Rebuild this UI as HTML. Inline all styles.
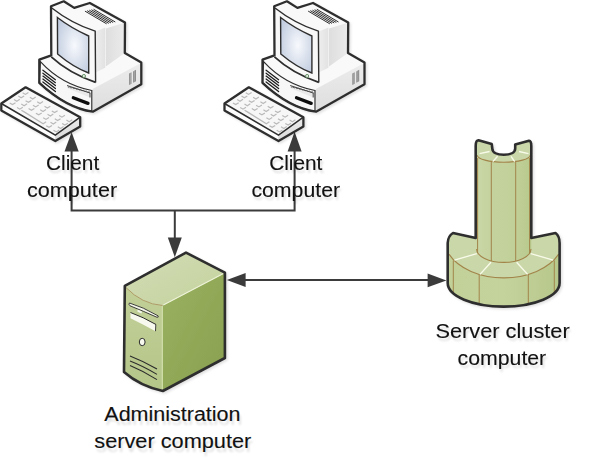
<!DOCTYPE html>
<html><head><meta charset="utf-8"><style>
html,body{margin:0;padding:0;background:#fff;}
svg{display:block;}
.t{font-family:"Liberation Sans",sans-serif;font-size:20px;fill:#111;stroke:#111;stroke-width:0.12px;}
.r{font-family:"Liberation Sans",sans-serif;font-size:20px;fill:#000;opacity:0.13;}
</style></head><body>
<svg width="600" height="458" viewBox="0 0 600 458">

<defs>
  <linearGradient id="gBaseR" x1="0" y1="0" x2="0" y2="1"><stop offset="0" stop-color="#ececec"/><stop offset="1" stop-color="#dedede"/></linearGradient>
  <linearGradient id="gSide" x1="0" y1="0" x2="1" y2="0"><stop offset="0" stop-color="#dedede"/><stop offset="1" stop-color="#ebebeb"/></linearGradient>
  <linearGradient id="gStrip" x1="0" y1="0" x2="1" y2="0"><stop offset="0" stop-color="#eeeeee"/><stop offset="1" stop-color="#e2e2e2"/></linearGradient>
  <linearGradient id="gKbR" x1="0" y1="0" x2="0" y2="1"><stop offset="0" stop-color="#ececec"/><stop offset="1" stop-color="#d9d9d9"/></linearGradient>
  <radialGradient id="gScreen" cx="0.55" cy="0.5" r="0.6"><stop offset="0" stop-color="#f7f9fd"/><stop offset="1" stop-color="#c3cee0"/></radialGradient>
  <clipPath id="cBaseF"><path d="M40.4,61.6 Q61.65,84.65 91.8,90.5 L91.8,111.4 Q66.1,107.85 39.3,82.8 Z"/></clipPath>
  <clipPath id="cKb"><path d="M25.6,87.3 L80.2,117.2 L55.3,135.2 L1.3,103.5 Z"/></clipPath>
  <clipPath id="cDisk"><path d="M447.7,240 L559.6,240 L559.6,283 A55.95,23.6 0 0 1 447.7,283 Z"/></clipPath>
  <clipPath id="cVent"><path d="M88,10 L118,4 L121,26 L95,26 Z"/></clipPath>
  <linearGradient id="gTop" x1="0" y1="0" x2="1" y2="1"><stop offset="0" stop-color="#d3ddb6"/><stop offset="1" stop-color="#c3d19c"/></linearGradient>
  <linearGradient id="gFront" x1="0" y1="0" x2="0" y2="1"><stop offset="0" stop-color="#c2d098"/><stop offset="1" stop-color="#b5c689"/></linearGradient>
  <linearGradient id="gRight" x1="0" y1="0" x2="1" y2="1"><stop offset="0" stop-color="#9ab161"/><stop offset="1" stop-color="#88a04f"/></linearGradient>
  <linearGradient id="gCol" x1="0" y1="0" x2="1" y2="0"><stop offset="0" stop-color="#cad7a7"/><stop offset="0.3" stop-color="#c4d29e"/><stop offset="0.55" stop-color="#c3d29c"/><stop offset="1" stop-color="#b9ca8e"/></linearGradient>
  <linearGradient id="gDisk" x1="0" y1="0" x2="1" y2="0"><stop offset="0" stop-color="#c2d198"/><stop offset="0.5" stop-color="#c4d29c"/><stop offset="1" stop-color="#b7c88b"/></linearGradient>
  <filter id="ds" x="-10%" y="-10%" width="125%" height="125%"><feDropShadow dx="1.5" dy="1.5" stdDeviation="1.2" flood-color="#000" flood-opacity="0.12"/></filter>
  <filter id="blur1" x="-5%" y="-50%" width="110%" height="200%"><feGaussianBlur stdDeviation="0.85"/></filter>
  <linearGradient id="fade" x1="0" y1="0" x2="0" y2="1"><stop offset="0" stop-color="#fff" stop-opacity="0.35"/><stop offset="1" stop-color="#fff" stop-opacity="0"/></linearGradient>
</defs>

<rect width="600" height="458" fill="#fff"/>

<g stroke="#3b3b3b" stroke-width="2" fill="none">
  <path d="M71.6,148 L71.6,210.5 L294.6,210.5 L294.6,148"/>
  <path d="M174.8,210.5 L174.8,240"/>
</g>
<path d="M245,280 L428,280" stroke="#3b3b3b" stroke-width="1.8"/>
<g fill="#3b3b3b">
  <path d="M64.5,151.6 L78.7,151.6 L71.6,132.2 Z"/>
  <path d="M287.6,151.6 L301.6,151.6 L294.6,131.8 Z"/>
  <path d="M167.8,237.4 L181.8,237.4 L174.8,257.2 Z"/>
  <path d="M245.6,273.1 L245.6,287 L226.8,280 Z"/>
  <path d="M427.6,273.4 L427.6,287.3 L446.4,280.4 Z"/>
</g>

<g filter="url(#ds)">
<g id="pc">
  <!-- silhouette fill -->
  <path d="M51,6.3 L63.75,1.3 L74.2,7.9 L89.8,3.0 L125,22.5 L124.8,53.1 L141.3,62.6 L141.3,84.3 L92.8,111.7 Q66.1,107.85 39.3,82.8 L39.3,59.7 L51.3,55.4 Z" fill="#f9f9f9"/>
  <!-- base right face -->
  <path d="M92.6,89 L140.6,63.2 L140.6,84.3 L92.6,110.8 Z" fill="url(#gBaseR)"/>
  <!-- base vents right -->
  <path d="M129.1,73.6 L131.5,72.3 L131.5,83.7 L129.1,85 Z M133.1,71.4 L136,69.8 L136,81.2 L133.1,82.8 Z" fill="#8c8c8c"/>
  <path d="M130.5,73.2 L130.5,84 M134.6,70.8 L134.6,81.8" stroke="#b0b0b0" stroke-width="0.7"/>
  <!-- base front face -->
  <path d="M40.4,61.6 Q61.65,84.65 91.8,90.5 L91.8,111.4 Q66.1,107.85 39.3,82.8 Z" fill="#f7f7f7" stroke="#2e2e2e" stroke-width="1.2"/>
  <!-- base front vents -->
  <path d="M42.9,70.20 L55.4,79.70 M42.9,73.15 L55.4,82.65 M42.9,76.10 L55.4,85.60 M42.9,79.05 L55.4,88.55 M42.9,82.00 L55.4,91.50" stroke="#1e1e1e" stroke-width="1.3" fill="none" stroke-linecap="round" clip-path="url(#cBaseF)"/>
  <!-- floppy label -->
  <path d="M67,85.5 L90,93 L90,97.5 L67,88 Z" fill="#e9e9e9"/>
  <path d="M67,85.5 L90,93 L90,97.5" stroke="#333" stroke-width="0.9" fill="none"/>
  <path d="M68,87.2 l1.6,-0.3 l1.2,1 l1.6,-0.3 l1.2,1 l1.6,-0.3 l1.2,1 l1.6,-0.3 l1.2,1 l1.6,-0.3 l1.2,1 l1.6,-0.3 l1.2,1 l1.6,-0.3 l1.2,1 l1.6,-0.3 l1.2,1" stroke="#444" stroke-width="0.8" fill="none"/>
  <!-- floppy slot -->
  <path d="M73.3,97.8 L88,103.4" stroke="#0e0e0e" stroke-width="3.3" stroke-linecap="round"/>
  <!-- monitor body side gray -->
  <path d="M105.8,28.5 L124.5,22.8 L124.5,53.2 L105.8,66.6 Z" fill="url(#gSide)"/>
  <!-- bezel side strip -->
  <path d="M95.6,31.6 L105.2,27.6 L105.2,67.8 L95.6,72.5 Z" fill="url(#gStrip)"/>
  <!-- bezel front -->
  <path d="M51.5,7.6 Q71.5,23.5 95.2,31.2 L95.6,82.5 Q68.85,73 51.3,56.5 Z" fill="#f8f8f8"/>
  <!-- bezel top edge & right edge & bottom -->
  <path d="M51.8,8 Q71.5,23.5 95.2,31.2 L95.6,82.5" stroke="#2e2e2e" stroke-width="1.4" fill="none"/>
  <path d="M51.3,56.8 Q68.85,73 95.6,82.3" stroke="#2e2e2e" stroke-width="1.8" fill="none"/>
  <!-- screen -->
  <path d="M57.4,17.5 Q71,28 88.7,36 L88.7,73 Q73.45,67.35 57.6,54 Z" fill="url(#gScreen)" stroke="#2e2e2e" stroke-width="1.4"/>
  <!-- power led -->
  <circle cx="83.9" cy="76" r="1.6" fill="#e2ebe2" stroke="#5e8a5e" stroke-width="0.9"/>
  <!-- vents on top -->
  <path d="M85.30,11.30 L106.30,23.65 M87.46,10.84 L108.46,23.19 M89.62,10.38 L110.62,22.73 M91.78,9.92 L112.78,22.27 M93.94,9.46 L114.94,21.81" stroke="#222" stroke-width="0.95" stroke-linecap="round" fill="none"/>
  <!-- outline -->
  <path d="M51,6.3 L63.75,1.3 L74.2,7.9 L89.8,3.0 L125,22.5 L124.8,53.1 L141.3,62.6 L141.3,84.3 L92.8,111.7 Q66.1,107.85 39.3,82.8 L39.3,59.7 L51.3,55.4 Z" fill="none" stroke="#2e2e2e" stroke-width="2.3" stroke-linejoin="round"/>
  <!-- keyboard -->
  <path d="M25.6,87.3 L80.2,117.2 L55.3,135.2 L1.3,103.5 Z" fill="#f7f7f7"/>
  <path d="M1.3,103.5 L55.3,135.2 L55.3,141 L1.3,110.5 Z" fill="#fdfdfd"/>
  <path d="M55.3,135.2 L80.2,117.2 L80.2,126.4 L55.3,141 Z" fill="url(#gKbR)"/>
  <path d="M22.60,92.70L25.40,94.40L28.40,92.50M29.90,97.25L32.70,98.95L35.70,97.05M37.20,101.80L40.00,103.50L43.00,101.60M44.50,106.35L47.30,108.05L50.30,106.15M51.80,110.90L54.60,112.60L57.60,110.70M59.10,115.45L61.90,117.15L64.90,115.25M66.40,120.00L69.20,121.70L72.20,119.80M18.30,96.10L21.10,97.80L24.10,95.90M25.60,100.65L28.40,102.35L31.40,100.45M32.90,105.20L35.70,106.90L38.70,105.00M40.20,109.75L43.00,111.45L46.00,109.55M47.50,114.30L50.30,116.00L53.30,114.10M54.80,118.85L57.60,120.55L60.60,118.65M62.10,123.40L64.90,125.10L67.90,123.20M14.00,99.50L16.80,101.20L19.80,99.30M21.30,104.05L24.10,105.75L27.10,103.85M28.60,108.60L31.40,110.30L34.40,108.40M35.90,113.15L38.70,114.85L41.70,112.95M43.20,117.70L46.00,119.40L49.00,117.50M50.50,122.25L53.30,123.95L56.30,122.05M57.80,126.80L60.60,128.50L63.60,126.60M9.70,102.90L12.50,104.60L15.50,102.70M17.00,107.45L19.80,109.15L22.80,107.25M46.20,125.65L49.00,127.35L52.00,125.45M53.50,130.20L56.30,131.90L59.30,130.00M21.38,110.18L24.18,111.88L43.16,123.71L46.16,121.81" stroke="#b9b9b9" stroke-width="1.2" fill="none" clip-path="url(#cKb)"/>
  <path d="M1.3,103.5 L55.3,135.2 L80.2,117.2" stroke="#2e2e2e" stroke-width="1.5" fill="none"/>
  <path d="M25.6,87.3 L80.2,117.2 L80.2,126.4 L55.3,141 L1.3,110.5 L1.3,103.5 Z" fill="none" stroke="#2e2e2e" stroke-width="2.3" stroke-linejoin="round"/>
</g>

<use href="#pc" transform="translate(223.2,0)"/>

<g id="server">
  <!-- top -->
  <path d="M124.8,285.9 L186,252.6 L224.9,272.7 L162.8,305.4 Q142,304 124.8,285.9 Z" fill="url(#gTop)"/>
  <!-- front -->
  <path d="M124.8,285.9 Q142,304 162.8,305.4 L162.8,391 Q140,386 124,372 Z" fill="url(#gFront)"/>
  <!-- right -->
  <path d="M162.8,305.4 L224.9,272.7 L224.9,358 L162.8,391 Z" fill="url(#gRight)"/>
  <!-- highlight edge -->
  <path d="M163.3,305 L223.5,273.5" stroke="#eef3d8" stroke-width="1.1"/>
  <path d="M162.3,306 L162.3,390" stroke="#d3dfab" stroke-width="1.1"/>
  <!-- front top curve brown -->
  <path d="M125.9,287.5 Q142,304 162.5,305.5" stroke="#aa9460" stroke-width="0.9" fill="none"/>
  <!-- drive slot 1 -->
  <path d="M129.5,303 Q143,307 158,315.8 Q159,317.5 157,317.3 Q143,311 130,305.8 Q128,304 129.5,303 Z" fill="#f4f6ea" stroke="#2b2b2b" stroke-width="0.9"/>
  <path d="M137.5,309.5 L142,311.5 L141.5,313.5 L137.5,311.8 Z" fill="#f4f6ea"/>
  <!-- drive 2 -->
  <path d="M130.5,312.5 Q143,317 156,324.5 L155.5,331.2 Q143,324.5 130.5,318.3 Z" fill="#f7f9ee"/>
  <path d="M155.8,324.5 L155.5,331.2" stroke="#2b2b2b" stroke-width="0.9"/>
  <path d="M130.5,312.5 Q143,317 156,324.5" stroke="#2b2b2b" stroke-width="1" fill="none"/>
  <!-- power button -->
  <ellipse cx="142.2" cy="342" rx="2.9" ry="3.7" fill="#f7f9ee" stroke="#2b2b2b" stroke-width="1"/>
  <!-- vents -->
  <path d="M130,356 Q143,361 157,369 M130,361 Q143,366 157,374.4 M130,365.6 Q143,371 157,379.6" stroke="#2b2b2b" stroke-width="1.1" fill="none"/>
  <!-- outline -->
  <path d="M124.8,285.9 L186,252.6 L224.9,272.7 L224.9,358 L162.8,391 Q140,386 124,372 Z" fill="none" stroke="#2e2e2e" stroke-width="2.6" stroke-linejoin="round"/>
</g>


<g id="cluster">
  <!-- base disk silhouette -->
  <path d="M453,233 L475.5,238 L531.5,238 L555.5,233 Q559.6,236 559.6,243 L559.6,283 A55.95,23.6 0 0 1 447.7,283 L447.7,243 Q448,236 453,233 Z" fill="url(#gDisk)"/>
  <!-- disk top face -->
  <path d="M453,233 L475.5,238 L531.5,238 L555.5,233 Q559.6,236 559.6,243 L559.6,254.1 L558.7,254.1 A60,39.8 0 0 1 448.9,254.1 L447.7,254.1 L447.7,243 Q448,236 453,233 Z" fill="#cad7a8"/>
  <path d="M448.9,254.1 A60,39.8 0 0 0 558.7,254.1" stroke="#a2844a" stroke-width="1.1" fill="none"/>
  <path d="M453.3,260.5 L453.3,297 M479.2,275 L479.2,306 M528.3,275 L528.3,306 M554.3,260.5 L554.3,297" stroke="#a2844a" stroke-width="1" clip-path="url(#cDisk)"/>
  <!-- column -->
  <path d="M475.7,146 Q475.7,140.3 478.5,140.3 L491.7,144 L492.3,148.5 C492.3,152.5 497,154.8 503.8,154.8 C510.5,154.8 515.2,152.5 515.2,148.5 L515.2,144.5 L529,140.8 Q531.3,141 531.3,146 L531.3,249 A27.8,13.4 0 0 1 475.7,249 Z" fill="url(#gCol)"/>
  <!-- column top face -->
  <path d="M475.7,146 Q475.7,140.3 478.5,140.3 L491.7,144 L492.3,148.5 C492.3,152.5 497,154.8 503.8,154.8 C510.5,154.8 515.2,152.5 515.2,148.5 L515.2,144.5 L529,140.8 Q531.3,141 531.3,146 L531.3,155.2 L530.1,155.2 A26.4,7 0 0 1 477.3,155.2 L475.7,155.2 Z" fill="#cad7a8"/>
  <path d="M477.3,155.2 A26.4,7 0 0 0 530.1,155.2" stroke="#a2844a" stroke-width="1.1" fill="none"/>
  <path d="M476.6,249 A27.2,13.4 0 0 0 531,249" stroke="#a2844a" stroke-width="1.1" fill="none"/>
  <path d="M477.6,158 L477.6,253 M491.3,161.5 L491.3,261 M515.7,161.5 L515.7,261 M529.6,158 L529.6,253" stroke="#a2844a" stroke-width="1"/>
  <!-- white radial lines -->
  <path d="M479.5,153.6 L489.6,151.5 M492.8,161.6 L497.6,156.3 M511,156.3 L514.7,161.6 M519,151.5 L528.5,153.6" stroke="#f8fbea" stroke-width="1.4"/>
  <path d="M454.4,260.1 L476.8,253.6 M480,274.4 L491,262.2 M516.6,262.2 L527.6,274.4 M530.8,253.6 L553.2,260.1" stroke="#f8fbea" stroke-width="1.4"/>
  <!-- outline -->
  <path d="M475.7,146 Q475.7,140.3 478.5,140.3 L491.7,144 L492.3,148.5 C492.3,152.5 497,154.8 503.8,154.8 C510.5,154.8 515.2,152.5 515.2,148.5 L515.2,144.5 L529,140.8 Q531.3,141 531.3,146 L531.3,238 L555.5,233 Q559.6,236 559.6,243 L559.6,283 A55.95,23.6 0 0 1 447.7,283 L447.7,243 Q448,236 453,233 L475.7,238 Z" fill="none" stroke="#2e2e2e" stroke-width="2.6" stroke-linejoin="round"/>
</g>
</g>
<defs></defs>
<text x="46" y="169.7" textLength="53.2" lengthAdjust="spacingAndGlyphs" class="r" transform="translate(1.6,3.8)" filter="url(#blur1)">Client</text><text x="46" y="169.7" textLength="53.2" lengthAdjust="spacingAndGlyphs" class="t">Client</text><text x="27" y="196.6" textLength="90.1" lengthAdjust="spacingAndGlyphs" class="r" transform="translate(1.6,3.8)" filter="url(#blur1)">computer</text><text x="27" y="196.6" textLength="90.1" lengthAdjust="spacingAndGlyphs" class="t">computer</text><text x="269.2" y="169.7" textLength="53.2" lengthAdjust="spacingAndGlyphs" class="r" transform="translate(1.6,3.8)" filter="url(#blur1)">Client</text><text x="269.2" y="169.7" textLength="53.2" lengthAdjust="spacingAndGlyphs" class="t">Client</text><text x="251.4" y="196.6" textLength="88.7" lengthAdjust="spacingAndGlyphs" class="r" transform="translate(1.6,3.8)" filter="url(#blur1)">computer</text><text x="251.4" y="196.6" textLength="88.7" lengthAdjust="spacingAndGlyphs" class="t">computer</text><text x="104.3" y="421.2" textLength="136.2" lengthAdjust="spacingAndGlyphs" class="r" transform="translate(1.6,3.8)" filter="url(#blur1)">Administration</text><text x="104.3" y="421.2" textLength="136.2" lengthAdjust="spacingAndGlyphs" class="t">Administration</text><text x="94.3" y="448.4" textLength="157.0" lengthAdjust="spacingAndGlyphs" class="r" transform="translate(1.6,3.8)" filter="url(#blur1)">server computer</text><text x="94.3" y="448.4" textLength="157.0" lengthAdjust="spacingAndGlyphs" class="t">server computer</text><text x="435.4" y="337.6" textLength="134.3" lengthAdjust="spacingAndGlyphs" class="r" transform="translate(1.6,3.8)" filter="url(#blur1)">Server cluster</text><text x="435.4" y="337.6" textLength="134.3" lengthAdjust="spacingAndGlyphs" class="t">Server cluster</text><text x="457.6" y="364.7" textLength="88.6" lengthAdjust="spacingAndGlyphs" class="r" transform="translate(1.6,3.8)" filter="url(#blur1)">computer</text><text x="457.6" y="364.7" textLength="88.6" lengthAdjust="spacingAndGlyphs" class="t">computer</text>
</svg>
</body></html>
